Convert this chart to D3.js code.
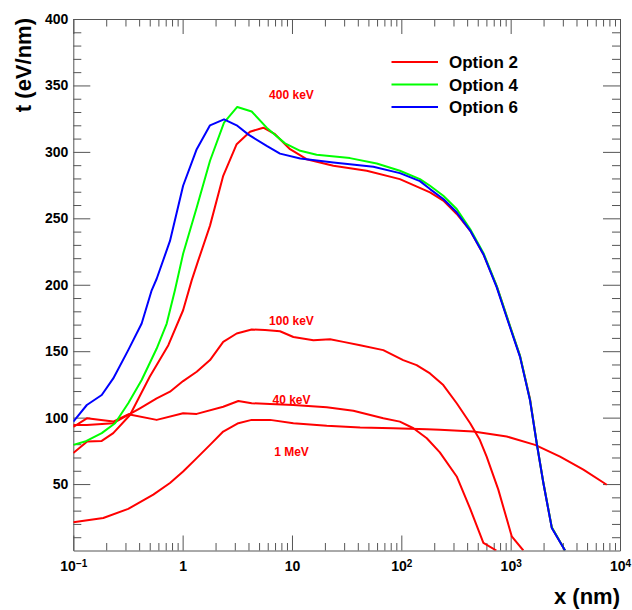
<!DOCTYPE html>
<html>
<head>
<meta charset="utf-8">
<script src="https://cdn.jsdelivr.net/npm/d3@7"></script>
<style>
  html, body { margin: 0; padding: 0; background: #fff; }
  svg { display: block; }
  text { font-family: "Liberation Sans", Arial, Helvetica, sans-serif; font-weight: bold; }
</style>
</head>
<body>
<svg id="chart" width="632" height="610"></svg>
<script>
// ---------------- data ----------------
const opt6_400keV_x = [0.1,0.133,0.182,0.232,0.318,0.422,0.521,0.579,0.766,1.01,1.345,1.78,2.39,3.12,4.0,4.43,5.87,7.77,11.9,23.9,55.5,97,148,183,242,321,426,563,746,986,1218,1503,1730,1991,2377,3143];
const opt6_400keV_y = [97,109.5,117,129.5,150.8,170.8,195.8,204.5,233,274.5,302,320,324.5,320,313,310.7,304.5,298.7,295,292,288.8,284,278,272,264.5,254.5,240.8,223,198,168,145.7,113,80.8,50.8,17,0];

const opt4_400keV_x = [0.1,0.128,0.182,0.241,0.318,0.422,0.579,0.715,0.85,1.01,1.345,1.78,2.39,3.16,4.28,5.87,8.64,11.9,16.8,33.9,59.6,97,148,183,242,321,426,563,746,986,1218,1503,1730,1991,2377,3143];
const opt4_400keV_y = [79.5,82,88.3,95.8,110.8,128.3,152,170.8,195.8,223.3,258.2,293.3,322,333.8,330.4,318.2,306.4,300.8,297.8,295.3,291.2,285.8,279.5,274.5,267,257,242,224,199,169,146.5,113.5,81,51,17.5,0];

const opt2_400keV_x = [0.1,0.134,0.182,0.232,0.33,0.5,0.74,1.01,1.21,1.39,1.78,2.35,3.12,4.13,5.47,7.0,9.6,13.6,23.9,48.3,97,183,242,321,426,563,746,986,1218,1503,1730,1991,2377,3143];
const opt2_400keV_y = [73.3,82,82.5,88.3,102,130.7,154.5,180.8,203.3,218.3,244.5,282,305.8,315.2,318.2,313.3,302,294.5,289.5,285.8,279.5,269.5,263.3,253.3,240.8,223,198.8,168.8,146.3,114,81,51,17.3,0];

const opt2_100keV_x = [0.1,0.133,0.232,0.318,0.407,0.579,0.766,1.01,1.345,1.78,2.35,3.12,4.28,5.67,7.77,10.3,15.7,22.3,29.5,42,68.4,104,138,183,242,321,426,522,603,771,1023,1306];
const opt2_100keV_y = [94.5,94.5,95.8,102,107,114.5,119.5,127.5,134.5,143.3,157,163.3,166.3,166,165,160.7,158.3,159,157,154.5,150.8,143.3,139.5,133.3,124.5,110.8,95.8,83.3,70.7,45.8,10.7,0];

const opt2_40keV_x = [0.1,0.133,0.232,0.318,0.579,1.01,1.345,2.35,3.23,4.28,6.3,10.3,20.8,36.4,68.4,97,129,171,225,321,426,563,740];
const opt2_40keV_y = [93,99.5,97,102.5,98.3,103.3,102.8,108.2,112.5,110.8,110.3,109.5,107.8,105.2,99.5,97,92,84.5,73.9,55.7,31.5,5.8,0];

const opt2_1MeV_x = [0.1,0.188,0.318,0.539,0.766,1.01,1.345,1.78,2.35,3.23,4.28,6.3,10.3,20.8,42,84.5,171,225,456,920,1671,2830,4624,7568];
const opt2_1MeV_y = [21.2,24.5,31.3,42,50.8,59.5,69.5,79.5,89.5,95.8,98.3,98.3,95.8,93.8,92.5,92,91.3,90.8,89.5,85.8,79.5,70.7,60.8,49.5];

const legendLabels = ["Option 2", "Option 4", "Option 6"];
const legendColors = ["#ff0000", "#00ff00", "#0000ff"];

const energyLabels = ["400 keV", "100 keV", "40 keV", "1 MeV"];
const energyLabelY = [340, 170, 110, 71];

const xMajorTicks = [0.1, 1, 10, 100, 1000, 10000];
const yMajorTicks = [50, 100, 150, 200, 250, 300, 350, 400];
const xTitle = "x (nm)";
const yTitle = "t (eV/nm)";

// ---------------- layout ----------------
const svg = d3.select("#chart");
const L = 73.3, R = 620, T = 19, B = 550.5;
const x = d3.scaleLog().domain([0.1, 1e4]).range([L, R]);
const y = d3.scaleLinear().domain([0, 400]).range([B, T]);

const xMinorTicks = [];
for (let k = -1; k <= 3; k++) for (let m = 2; m <= 9; m++) xMinorTicks.push(m * Math.pow(10, k));
const yMinorTicks = d3.range(10, 400, 10).filter(v => v % 50 !== 0);

const axisColor = "#555";
const fontFam = '"Liberation Sans", Arial, sans-serif';

function styleAxis(g) {
  g.selectAll("path").attr("stroke", axisColor).attr("stroke-width", 1);
  g.selectAll("line").attr("stroke", axisColor).attr("stroke-width", 1);
}

// bottom axis (minor first, then major with labels)
const gBmin = svg.append("g").attr("transform", `translate(0,${B})`)
  .call(d3.axisBottom(x).tickValues(xMinorTicks).tickSize(-7.5).tickSizeOuter(0).tickFormat(""));
gBmin.select("path").remove();
gBmin.selectAll("text").remove();
styleAxis(gBmin);
const gB = svg.append("g").attr("transform", `translate(0,${B})`)
  .call(d3.axisBottom(x).tickValues(xMajorTicks).tickSize(-15).tickSizeOuter(0).tickPadding(11)
    .tickFormat(() => ""));
styleAxis(gB);
const expOf = v => Math.round(Math.log10(v));
gB.selectAll(".tick text").each(function(d) {
  const t = d3.select(this);
  const e = expOf(d);
  t.attr("fill", "#000").attr("font-size", 14).attr("font-weight", "bold").attr("font-family", fontFam);
  t.text(null);
  if (e === 0) { t.append("tspan").text("1"); }
  else if (e === 1) { t.append("tspan").text("10"); }
  else {
    t.append("tspan").text("10");
    t.append("tspan").attr("font-size", 10).attr("dy", "-0.45em").text(e < 0 ? "\u2212" + (-e) : String(e));
  }
});

// top axis
const gTmin = svg.append("g").attr("transform", `translate(0,${T})`)
  .call(d3.axisTop(x).tickValues(xMinorTicks).tickSize(-7.5).tickSizeOuter(0).tickFormat(""));
gTmin.select("path").remove();
gTmin.selectAll("text").remove();
styleAxis(gTmin);
const gT = svg.append("g").attr("transform", `translate(0,${T})`)
  .call(d3.axisTop(x).tickValues(xMajorTicks).tickSize(-15).tickSizeOuter(0).tickFormat(""));
gT.selectAll("text").remove();
styleAxis(gT);

// left axis
const gLmin = svg.append("g").attr("transform", `translate(${L},0)`)
  .call(d3.axisLeft(y).tickValues(yMinorTicks).tickSize(-8).tickSizeOuter(0).tickFormat(""));
gLmin.select("path").remove();
gLmin.selectAll("text").remove();
styleAxis(gLmin);
const gL = svg.append("g").attr("transform", `translate(${L},0)`)
  .call(d3.axisLeft(y).tickValues(yMajorTicks).tickSize(-17).tickSizeOuter(0).tickPadding(5)
    .tickFormat(d3.format("d")));
styleAxis(gL);
gL.selectAll(".tick text").attr("fill", "#000").attr("font-size", 14).attr("font-weight", "bold")
  .attr("font-family", fontFam);

// right axis
const gRmin = svg.append("g").attr("transform", `translate(${R},0)`)
  .call(d3.axisRight(y).tickValues(yMinorTicks).tickSize(-8).tickSizeOuter(0).tickFormat(""));
gRmin.select("path").remove();
gRmin.selectAll("text").remove();
styleAxis(gRmin);
const gR = svg.append("g").attr("transform", `translate(${R},0)`)
  .call(d3.axisRight(y).tickValues(yMajorTicks).tickSize(-17).tickSizeOuter(0).tickFormat(""));
gR.selectAll("text").remove();
styleAxis(gR);

// clip
svg.append("clipPath").attr("id", "clip").append("rect")
  .attr("x", L).attr("y", T).attr("width", R - L).attr("height", B - T);

const line = d3.line().x(d => x(d[0])).y(d => y(d[1]));
const series = [
  { xs: opt2_1MeV_x, ys: opt2_1MeV_y, color: legendColors[0] },
  { xs: opt2_40keV_x, ys: opt2_40keV_y, color: legendColors[0] },
  { xs: opt2_100keV_x, ys: opt2_100keV_y, color: legendColors[0] },
  { xs: opt2_400keV_x, ys: opt2_400keV_y, color: legendColors[0] },
  { xs: opt4_400keV_x, ys: opt4_400keV_y, color: legendColors[1] },
  { xs: opt6_400keV_x, ys: opt6_400keV_y, color: legendColors[2] }
];
const gLines = svg.append("g").attr("clip-path", "url(#clip)");
series.forEach(s => {
  gLines.append("path")
    .datum(s.xs.map((v, i) => [v, s.ys[i]]))
    .attr("d", line)
    .attr("fill", "none")
    .attr("stroke", s.color)
    .attr("stroke-width", 2)
    .attr("stroke-linejoin", "round");
});

// energy annotations
energyLabels.forEach((lab, i) => {
  svg.append("text")
    .attr("x", x(10) - 0.5)
    .attr("y", y(energyLabelY[i]))
    .attr("text-anchor", "middle")
    .attr("font-size", 12)
    .attr("fill", "#ff0000")
    .text(lab);
});

// legend
const legendY0 = 62, legendDY = 22.5;
legendLabels.forEach((lab, i) => {
  const yy = legendY0 + i * legendDY;
  svg.append("line").attr("x1", 391.5).attr("x2", 438).attr("y1", yy).attr("y2", yy)
    .attr("stroke", legendColors[i]).attr("stroke-width", 2);
  svg.append("text").attr("x", 449).attr("y", yy).attr("dy", "0.36em")
    .attr("font-size", 17).attr("fill", "#000").text(lab);
});

// axis titles
svg.append("text")
  .attr("transform", `translate(31,18) rotate(-90)`)
  .attr("text-anchor", "end")
  .attr("font-size", 22)
  .attr("fill", "#000")
  .text(yTitle);
svg.append("text")
  .attr("x", 620).attr("y", 604)
  .attr("text-anchor", "end")
  .attr("font-size", 22)
  .attr("fill", "#000")
  .text(xTitle);
</script>
</body>
</html>
